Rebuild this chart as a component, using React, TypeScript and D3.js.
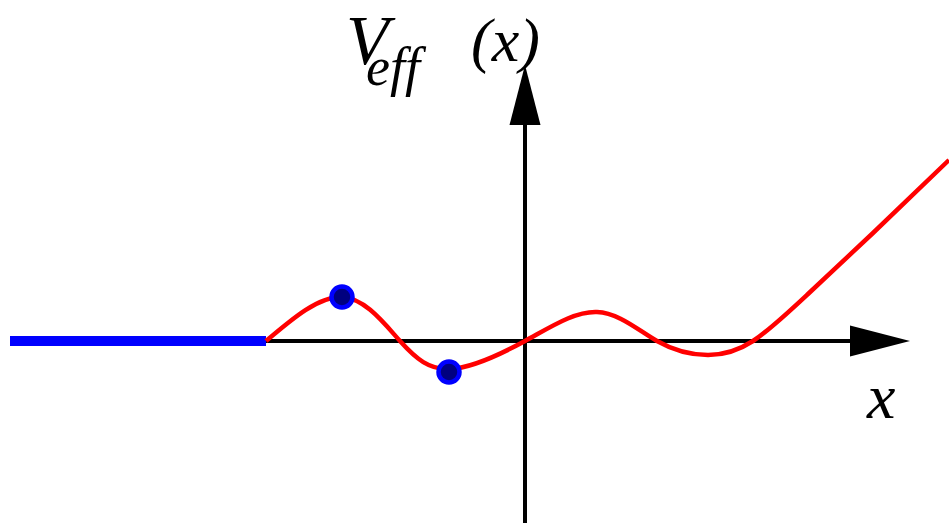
import { useEffect, useRef } from 'react';
import * as d3 from 'd3';

// potential curve: extrema, zero crossings and the rising branch (x, V)
const curveX = [-5.18, -3.66, -2.5, -1.5, 0, 1.44, 2.64, 3.66, 4.56, 5.66, 6.96, 8.48];
const curveV = [0, 0.88, 0, -0.56, 0, 0.58, 0, -0.28, 0, 0.94, 2.16, 3.62];

// flat blue segment on the left
const flatX = [-10.3, -5.18];

// marked extrema
const dotX = [-3.66, -1.52];
const dotV = [0.88, -0.62];

const xAxisEnd = 7.7;
const yAxisEnd = 5.52;

const App = () => {
  const svgRef = useRef<SVGSVGElement>(null);

  useEffect(() => {
    const width = 949;
    const height = 523;

    const svg = d3.select(svgRef.current)
      .attr("width", width)
      .attr("height", height);

    svg.selectAll("*").remove();

    const x = d3.scaleLinear().domain([-10.5, 8.48]).range([0, width]);
    const y = d3.scaleLinear().domain([-3.64, 6.82]).range([height, 0]);

    const arrowLen = 60;
    const arrowHalf = 15.5;

    // x axis
    svg.append("line")
      .attr("x1", x(flatX[1])).attr("x2", x(xAxisEnd) - arrowLen + 2)
      .attr("y1", y(0)).attr("y2", y(0))
      .attr("stroke", "#000").attr("stroke-width", 4);
    svg.append("path")
      .attr("d", `M${x(xAxisEnd)},${y(0)} L${x(xAxisEnd) - arrowLen},${y(0) - arrowHalf} L${x(xAxisEnd) - arrowLen},${y(0) + arrowHalf} Z`)
      .attr("fill", "#000");

    // y axis
    svg.append("line")
      .attr("x1", x(0)).attr("x2", x(0))
      .attr("y1", y(-3.64)).attr("y2", y(yAxisEnd) + arrowLen - 2)
      .attr("stroke", "#000").attr("stroke-width", 4);
    svg.append("path")
      .attr("d", `M${x(0)},${y(yAxisEnd)} L${x(0) - arrowHalf},${y(yAxisEnd) + arrowLen} L${x(0) + arrowHalf},${y(yAxisEnd) + arrowLen} Z`)
      .attr("fill", "#000");

    // blue flat part
    svg.append("line")
      .attr("x1", x(flatX[0])).attr("x2", x(flatX[1]))
      .attr("y1", y(0)).attr("y2", y(0))
      .attr("stroke", "#0000ff").attr("stroke-width", 10);

    // red curve
    const line = d3.line<number>()
      .x((_, i) => x(curveX[i]))
      .y(d => y(d))
      .curve(d3.curveNatural);

    svg.append("path")
      .datum(curveV)
      .attr("d", line)
      .attr("fill", "none")
      .attr("stroke", "#ff0000")
      .attr("stroke-width", 4.5);

    // dots
    svg.selectAll("circle")
      .data(dotV)
      .enter()
      .append("circle")
      .attr("cx", (_, i) => x(dotX[i]))
      .attr("cy", d => y(d))
      .attr("r", 10.5)
      .attr("fill", "#000080")
      .attr("stroke", "#0000ff")
      .attr("stroke-width", 4.5);

    // labels
    const font = "'Liberation Serif', 'DejaVu Serif', serif";
    const title = svg.append("text")
      .attr("x", 346).attr("y", 64)
      .style("font-family", font).style("font-style", "italic");
    title.append("tspan").style("font-size", "70px").text("V");
    title.append("tspan").attr("x", 366).attr("y", 85).style("font-size", "54px").text("eff");

    svg.append("text")
      .attr("x", 471).attr("y", 61)
      .style("font-family", font).style("font-style", "italic").style("font-size", "62px")
      .text("(x)");
    svg.append("text")
      .attr("x", 867).attr("y", 418)
      .style("font-family", font).style("font-style", "italic").style("font-size", "64px")
      .text("x");
  }, []);

  return (
    <div style={{ position: "absolute", left: 0, top: 0 }}>
      <svg ref={svgRef} style={{ display: "block" }}></svg>
    </div>
  );
};

export default App;
